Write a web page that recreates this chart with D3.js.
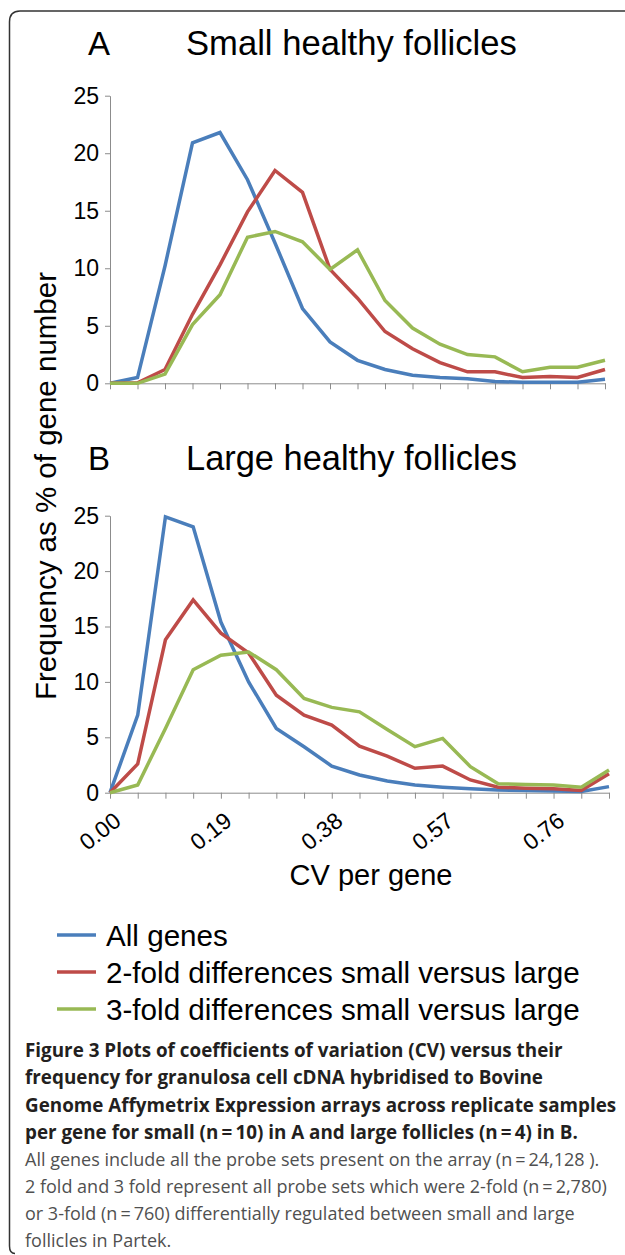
<!DOCTYPE html>
<html>
<head>
<meta charset="utf-8">
<script src="https://cdn.jsdelivr.net/npm/d3@7"></script>
<style>
  html, body { margin: 0; padding: 0; background: #fff; }
  svg { display: block; }
</style>
</head>
<body>
<svg id="chart" width="625" height="1255"></svg>
<script>
// ---- data ----
const cvCategories = ["0.00","0.05","0.10","0.14","0.19","0.24","0.29","0.33","0.38","0.43","0.48","0.52","0.57","0.62","0.67","0.71","0.76","0.81","0.86"];
const xTickLabels = ["0.00","0.19","0.38","0.57","0.76"];
const yTicks = [0, 5, 10, 15, 20, 25];
const seriesNames = ["All genes", "2-fold differences small versus large", "3-fold differences small versus large"];
const seriesColors = ["#4a7ebb", "#be4b48", "#98b954"];

// Panel A: small healthy follicles
const smallAllGenes = [0, 0.5, 10.2, 20.9, 21.8, 17.7, 12.2, 6.5, 3.6, 2.0, 1.2, 0.7, 0.5, 0.4, 0.15, 0.1, 0.1, 0.1, 0.35];
const small2Fold    = [0, 0.05, 1.2, 6.0, 10.3, 14.9, 18.5, 16.6, 9.9, 7.4, 4.5, 3.0, 1.8, 1.0, 1.0, 0.5, 0.6, 0.5, 1.2];
const small3Fold    = [0, 0, 0.8, 5.1, 7.7, 12.7, 13.2, 12.3, 9.9, 11.6, 7.2, 4.8, 3.4, 2.5, 2.3, 1.0, 1.4, 1.4, 2.0];

// Panel B: large healthy follicles
const largeAllGenes = [0, 7.0, 24.9, 24.0, 15.4, 10.0, 5.8, 4.15, 2.4, 1.6, 1.05, 0.7, 0.5, 0.35, 0.25, 0.2, 0.15, 0.1, 0.55];
const large2Fold    = [0, 2.6, 13.8, 17.4, 14.4, 12.6, 8.8, 7.0, 6.1, 4.2, 3.3, 2.2, 2.4, 1.15, 0.5, 0.4, 0.35, 0.2, 1.7];
const large3Fold    = [0, 0.7, 5.8, 11.1, 12.4, 12.7, 11.1, 8.5, 7.7, 7.3, 5.7, 4.15, 4.9, 2.35, 0.8, 0.75, 0.7, 0.5, 2.05];

const panelTitles = [["A", "Small healthy follicles"], ["B", "Large healthy follicles"]];
const yAxisTitle = "Frequency as % of gene number";
const xAxisTitle = "CV per gene";
const captionBold = [
  "Figure 3 Plots of coefficients of variation (CV) versus their",
  "frequency for granulosa cell cDNA hybridised to Bovine",
  "Genome Affymetrix Expression arrays across replicate samples",
  "per gene for small (n\u2009=\u200910) in A and large follicles (n\u2009=\u20094) in B."
];
const captionRegular = [
  "All genes include all the probe sets present on the array (n\u2009=\u200924,128 ).",
  "2 fold and 3 fold represent all probe sets which were 2-fold (n\u2009=\u20092,780)",
  "or 3-fold (n\u2009=\u2009760) differentially regulated between small and large",
  "follicles in Partek."
];

// ---- drawing ----
const svg = d3.select("#chart");
const FONT = "'Liberation Sans', Arial, sans-serif";
const CAPFONT = "'Open Sans', 'Noto Sans', sans-serif";

// frame
svg.append("path")
  .attr("d", "M15,1253.5 Q9.5,1253.5 9.5,1246 L9.5,22 Q9.5,11 20,11 L630,11")
  .attr("fill", "none").attr("stroke", "#333").attr("stroke-width", 1.5);

function fitText(sel, target) {
  const w = sel.node().getComputedTextLength();
  const fs = parseFloat(sel.attr("font-size"));
  sel.attr("font-size", (fs * target / w).toFixed(2));
}

const panels = [
  { top: 95.7, bottom: 383.3, left: 110, right: 605, data: [smallAllGenes, small2Fold, small3Fold], labels: false, titleY: 55 },
  { top: 515.7, bottom: 792.7, left: 110, right: 609, data: [largeAllGenes, large2Fold, large3Fold], labels: true, titleY: 470 }
];

panels.forEach((p, pi) => {
  const g = svg.append("g");
  const x = d3.scalePoint().domain(cvCategories).range([p.left, p.right]).padding(0);
  const y = d3.scaleLinear().domain([0, 25]).range([p.bottom, p.top]);

  // title
  g.append("text").attr("x", 88).attr("y", p.titleY)
    .attr("font-family", FONT).attr("font-size", 33).attr("fill", "#000")
    .text(panelTitles[pi][0]);
  const tt = g.append("text").attr("x", 186).attr("y", p.titleY)
    .attr("font-family", FONT).attr("font-size", 33).attr("fill", "#000")
    .text(panelTitles[pi][1]);
  fitText(tt, 331);

  // y axis
  const ya = g.append("g").attr("transform", `translate(${p.left},0)`)
    .call(d3.axisLeft(y).tickValues(yTicks).tickSize(5).tickSizeOuter(0).tickPadding(6));
  ya.select(".domain").attr("stroke", "#8c8c8c");
  ya.selectAll(".tick line").attr("stroke", "#8c8c8c");
  ya.selectAll(".tick text").attr("font-family", FONT).attr("font-size", 23).attr("fill", "#000");

  // x axis
  const xa = g.append("g").attr("transform", `translate(0,${p.bottom})`)
    .call(d3.axisBottom(x).tickSize(6).tickSizeOuter(0)
      .tickFormat(d => (p.labels && xTickLabels.includes(d)) ? d : ""));
  xa.select(".domain").attr("stroke", "#8c8c8c");
  xa.selectAll(".tick line").attr("stroke", "#8c8c8c");
  xa.selectAll(".tick text")
    .attr("font-family", FONT).attr("font-size", 23).attr("fill", "#000")
    .attr("text-anchor", "end")
    .attr("y", 0).attr("dy", 0)
    .attr("transform", "translate(12,31) rotate(-38)");

  // lines
  const line = d3.line().x((d, i) => x(cvCategories[i])).y(d => y(d));
  p.data.forEach((s, si) => {
    g.append("path").datum(s)
      .attr("d", line)
      .attr("fill", "none")
      .attr("stroke", seriesColors[si])
      .attr("stroke-width", 3.5)
      .attr("stroke-linejoin", "miter")
      .attr("stroke-linecap", "butt");
  });
});

// y axis title
const yt = svg.append("text")
  .attr("transform", "translate(56,486) rotate(-90)")
  .attr("text-anchor", "middle")
  .attr("font-family", FONT).attr("font-size", 29).attr("fill", "#000")
  .text(yAxisTitle);
fitText(yt, 428);

// x axis title
const xt = svg.append("text")
  .attr("x", 371).attr("y", 885).attr("text-anchor", "middle")
  .attr("font-family", FONT).attr("font-size", 27).attr("fill", "#000")
  .text(xAxisTitle);
fitText(xt, 163);

// legend
const legRowY = [935, 972, 1009];
const leg = svg.append("g");
let legFont = 25;
seriesNames.forEach((name, i) => {
  leg.append("line").attr("x1", 57).attr("x2", 96).attr("y1", legRowY[i]).attr("y2", legRowY[i])
    .attr("stroke", seriesColors[i]).attr("stroke-width", 3.5);
  const t = leg.append("text").attr("x", 106).attr("y", legRowY[i]).attr("dy", "0.36em")
    .attr("font-family", FONT).attr("font-size", legFont).attr("fill", "#000").text(name);
  if (i === 1) {
    const w = t.node().getComputedTextLength();
    legFont = legFont * 474 / w;
  }
});
leg.selectAll("text").attr("font-size", legFont.toFixed(2));

// caption
const capX = 25;
const capBaselines = [1057, 1084, 1111.5, 1138.5, 1165.5, 1193, 1220, 1247];
const boldTargets = [537, 516, 579, 568];
const regTargets = [573, 585, 548, null];
const cap = svg.append("g");

function addLines(lines, targets, weight, color, startIdx) {
  const nodes = lines.map((l, i) => cap.append("text")
    .attr("x", capX).attr("y", capBaselines[startIdx + i])
    .attr("font-family", CAPFONT).attr("font-weight", weight)
    .attr("font-size", 20).attr("fill", color).text(l));
  let ratios = [];
  nodes.forEach((n, i) => {
    if (targets[i]) ratios.push(targets[i] / n.node().getComputedTextLength());
  });
  const r = d3.mean(ratios);
  nodes.forEach(n => n.attr("font-size", (20 * r).toFixed(2)));
}
addLines(captionBold, boldTargets, 700, "#231f20", 0);
addLines(captionRegular, regTargets, 400, "#505050", 4);
</script>
</body>
</html>
